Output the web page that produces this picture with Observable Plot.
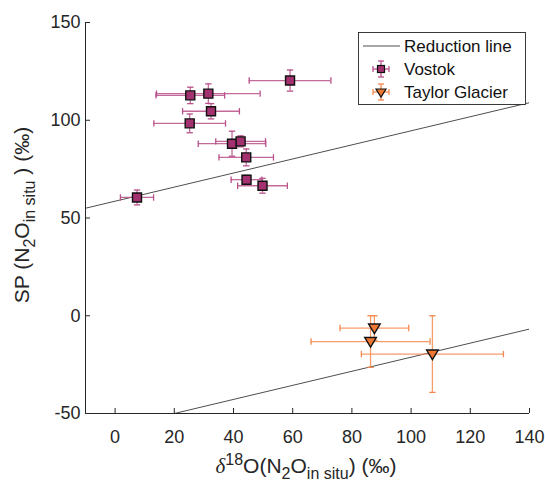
<!DOCTYPE html>
<html><head><meta charset="utf-8">
<script src="https://cdn.jsdelivr.net/npm/d3@7"></script>
<script src="https://cdn.jsdelivr.net/npm/@observablehq/plot@0.6"></script>
<style>body{margin:0;background:#fff} svg{font-family:"Liberation Sans",Arial,sans-serif}</style>
</head><body><div id="chart"></div>
<script>
const vostokX    = [59.1, 25.4, 31.5, 32.4, 25.2, 39.5, 42.4, 44.3, 44.4, 49.8, 7.4];
const vostokY    = [120.3, 112.7, 113.6, 104.6, 98.4, 88.0, 89.2, 81.0, 69.6, 66.5, 60.5];
const vostokXErr = [13.8, 11.6, 17.5, 9.6, 12.1, 11.4, 8.4, 9.2, 5.2, 8.4, 5.6];
const vostokYErr = [5.4, 4.2, 5.0, 3.9, 4.8, 6.4, 2.8, 4.3, 2.2, 3.8, 3.8];
const taylorX    = [87.6, 86.3, 107.2];
const taylorY    = [-6.3, -13.2, -19.6];
const taylorXErr = [11.6, 20.1, 24.0];
const taylorYErr = [6.3, 13.2, 19.6];
const reductionSlope = 0.36;
const reductionIntercepts = [58.6, -57.2];
const reductionXRange = [-10, 140];
const xTicks = [0, 20, 40, 60, 80, 100, 120, 140];
const yTicks = [-50, 0, 50, 100, 150];
const seriesNames = ["Reduction line", "Vostok", "Taylor Glacier"];

const vostokFill = "#a3306f", vostokBar = "#b8508a";
const taylorFill = "#ee7733", taylorBar = "#f48a50";

const vostok = vostokX.map((x, i) => ({x, y: vostokY[i], xe: vostokXErr[i], ye: vostokYErr[i]}));
const taylor = taylorX.map((x, i) => ({x, y: taylorY[i], xe: taylorXErr[i], ye: taylorYErr[i]}));
const lines = reductionIntercepts.flatMap((b, k) => reductionXRange.map(x => ({k, x, y: b + reductionSlope * x})));

const vCap = {draw(ctx) { ctx.moveTo(0, -3.2); ctx.lineTo(0, 3.2); }};
const hCap = {draw(ctx) { ctx.moveTo(-3.2, 0); ctx.lineTo(3.2, 0); }};
const sq = {draw(ctx) { ctx.rect(-4.5, -4.5, 9, 9); }};
const tri = {draw(ctx) { ctx.moveTo(-5.8, -4); ctx.lineTo(5.8, -4); ctx.lineTo(0, 5.5); ctx.closePath(); }};

function errMarks(data, color) {
  return [
    Plot.ruleY(data, {y: "y", x1: d => d.x - d.xe, x2: d => d.x + d.xe, stroke: color, strokeWidth: 1.3, strokeOpacity: 0.85}),
    Plot.ruleX(data, {x: "x", y1: d => d.y - d.ye, y2: d => d.y + d.ye, stroke: color, strokeWidth: 1.3, strokeOpacity: 0.85}),
    Plot.dot(data, {x: d => d.x - d.xe, y: "y", symbol: vCap, stroke: color, strokeWidth: 1.3, r: 3}),
    Plot.dot(data, {x: d => d.x + d.xe, y: "y", symbol: vCap, stroke: color, strokeWidth: 1.3, r: 3}),
    Plot.dot(data, {x: "x", y: d => d.y - d.ye, symbol: hCap, stroke: color, strokeWidth: 1.3, r: 3}),
    Plot.dot(data, {x: "x", y: d => d.y + d.ye, symbol: hCap, stroke: color, strokeWidth: 1.3, r: 3})
  ];
}

const W = 545, H = 481;
const plot = Plot.plot({
  width: W, height: H,
  marginLeft: 85, marginRight: 16, marginTop: 22, marginBottom: 68,
  style: {fontFamily: '"Liberation Sans", Arial, sans-serif', fontSize: "18px", color: "#262626", background: "white"},
  x: {domain: [-10, 140], ticks: xTicks},
  y: {domain: [-50, 150], ticks: yTicks},
  marks: [
    Plot.line(lines, {x: "x", y: "y", z: "k", stroke: "#3a3a3a", strokeWidth: 0.9, clip: true}),
    ...errMarks(vostok, vostokBar),
    ...errMarks(taylor, taylorBar),
    Plot.dot(vostok, {x: "x", y: "y", symbol: sq, r: 4.5, fill: vostokFill, stroke: "#111", strokeWidth: 1.4}),
    Plot.dot(taylor, {x: "x", y: "y", symbol: tri, r: 5.5, fill: taylorFill, stroke: "#111", strokeWidth: 1.4}),
    Plot.axisX({ticks: xTicks, tickSize: -5, tickPadding: 22, label: null, fontSize: 18, tickFormat: d => String(d)}),
    Plot.axisY({ticks: yTicks, tickSize: -5, tickPadding: 10, label: null, fontSize: 18, tickFormat: d => String(d)}),
    Plot.ruleY([-50], {stroke: "#262626", strokeWidth: 1}),
    Plot.ruleX([-10], {stroke: "#262626", strokeWidth: 1})
  ]
});
document.getElementById("chart").appendChild(plot);

const svg = d3.select(plot);
// Axis labels
const xl = svg.append("text").attr("x", 306).attr("y", 473).attr("text-anchor", "middle")
  .attr("font-size", 21).attr("fill", "#262626");
xl.append("tspan").attr("font-family", '"Liberation Serif", serif').attr("font-style", "italic").text("δ");
xl.append("tspan").attr("dy", -8).attr("font-size", 16).text("18");
xl.append("tspan").attr("dy", 8).text("O(N");
xl.append("tspan").attr("dy", 6).attr("font-size", 16).text("2");
xl.append("tspan").attr("dy", -6).text("O");
xl.append("tspan").attr("dy", 6).attr("font-size", 16).text("in situ");
xl.append("tspan").attr("dy", -6).text(") (‰)");

const yl = svg.append("text").attr("transform", "translate(29,215) rotate(-90)").attr("text-anchor", "middle")
  .attr("font-size", 21).attr("fill", "#262626");
yl.append("tspan").text("SP (N");
yl.append("tspan").attr("dy", 6).attr("font-size", 16).text("2");
yl.append("tspan").attr("dy", -6).text("O");
yl.append("tspan").attr("dy", 6).attr("font-size", 16).text("in situ");
yl.append("tspan").attr("dy", -6).text(" ) (‰)");

// Legend
const lg = svg.append("g").attr("text-anchor", "start");
lg.append("rect").attr("x", 358.5).attr("y", 32.5).attr("width", 167).attr("height", 72)
  .attr("fill", "white").attr("stroke", "#262626").attr("stroke-width", 0.9);
const rows = [46, 69, 92];
lg.append("line").attr("x1", 363).attr("x2", 400).attr("y1", rows[0]).attr("y2", rows[0]).attr("stroke", "#3a3a3a").attr("stroke-width", 0.9);
function legendErr(cy, color) {
  const cx = 381;
  lg.append("line").attr("x1", cx-8).attr("x2", cx+8).attr("y1", cy).attr("y2", cy).attr("stroke", color).attr("stroke-width", 1.3);
  lg.append("line").attr("x1", cx).attr("x2", cx).attr("y1", cy-8).attr("y2", cy+8).attr("stroke", color).attr("stroke-width", 1.3);
  [[cx-8, cy-3, cx-8, cy+3], [cx+8, cy-3, cx+8, cy+3], [cx-3, cy-8, cx+3, cy-8], [cx-3, cy+8, cx+3, cy+8]].forEach(([a,b,c,d]) =>
    lg.append("line").attr("x1", a).attr("y1", b).attr("x2", c).attr("y2", d).attr("stroke", color).attr("stroke-width", 1.3));
}
legendErr(rows[1], vostokBar);
lg.append("rect").attr("x", 381-3.5).attr("y", rows[1]-3.5).attr("width", 7).attr("height", 7).attr("fill", vostokFill).attr("stroke", "#111").attr("stroke-width", 1.2);
legendErr(rows[2], taylorBar);
lg.append("path").attr("d", `M${381-5},${rows[2]-3} L${381+5},${rows[2]-3} L381,${rows[2]+5} Z`).attr("fill", taylorFill).attr("stroke", "#111").attr("stroke-width", 1.2);
seriesNames.forEach((n, i) => lg.append("text").attr("x", 404).attr("y", rows[i] + 6).attr("font-size", 17).attr("fill", "#111").attr("text-anchor", "start").text(n));
</script></body></html>
